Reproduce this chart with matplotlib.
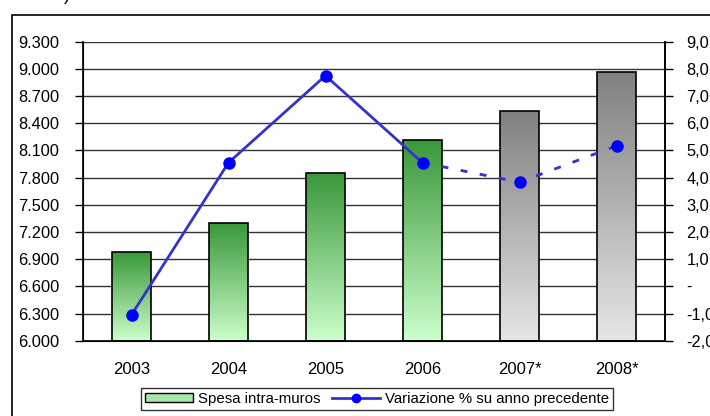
import matplotlib
matplotlib.use("Agg")
import matplotlib.pyplot as plt
import numpy as np
from matplotlib.patches import Rectangle
from matplotlib.lines import Line2D
from matplotlib.ticker import FixedLocator

plt.rcParams['font.family'] = ['Liberation Sans', 'DejaVu Sans']

years = ["2003", "2004", "2005", "2006", "2007*", "2008*"]
spesa = [6980, 7295, 7850, 8210, 8530, 8970]
variazione = [-1.05, 4.55, 7.75, 4.55, 3.83, 5.17]
left_ticks = [6000, 6300, 6600, 6900, 7200, 7500, 7800, 8100, 8400, 8700, 9000, 9300]
left_labels = ["6.000", "6.300", "6.600", "6.900", "7.200", "7.500", "7.800", "8.100", "8.400", "8.700", "9.000", "9.300"]
right_ticks = [-2, -1, 0, 1, 2, 3, 4, 5, 6, 7, 8, 9]
right_labels = ["-2,0", "-1,0", "-", "1,0", "2,0", "3,0", "4,0", "5,0", "6,0", "7,0", "8,0", "9,0"]
n_actual = 4

fig = plt.figure(figsize=(7.1, 4.16), dpi=100)
fig.patch.set_facecolor("white")

# outer frame
fig.patches.append(Rectangle((12/710, -0.05), 1.2, (416-15)/416 + 0.05, transform=fig.transFigure,
                             fill=False, edgecolor="black", linewidth=1.2, zorder=0))
fig.text(28/710, 1 - 4/416, "euro)", fontsize=13, ha="left", va="bottom")

ax = fig.add_axes([83/710, (416-340.7)/416, (665-83)/710, (340.7-41.7)/416])
ax.set_xlim(-0.5, len(years) - 0.5)
ax.set_ylim(6000, 9300)

x = np.arange(len(years))
bars = ax.bar(x, [v - 6000 for v in spesa], bottom=6000, width=0.4,
              facecolor="none", edgecolor="black", linewidth=1.2, zorder=3)

green = np.array([[0x3a/255, 0x98/255, 0x3a/255], [0xcc/255, 0xff/255, 0xcc/255]])
gray = np.array([[0x80/255, 0x80/255, 0x80/255], [0xe6/255, 0xe6/255, 0xe6/255]])
t = np.linspace(0, 1, 256)[:, None]
for i, b in enumerate(bars):
    cols = green if i < n_actual else gray
    grad = cols[0] * (1 - t) + cols[1] * t
    img = grad[:, None, :]
    x0, y0 = b.get_x(), b.get_y()
    w, h = b.get_width(), b.get_height()
    im = ax.imshow(img, extent=[x0, x0 + w, y0, y0 + h], aspect="auto",
                   origin="upper", zorder=2)
    im.set_clip_path(b)

ax.yaxis.set_major_locator(FixedLocator(left_ticks))
ax.set_yticklabels(left_labels)
ax.set_xticks(x)
ax.set_xticklabels(years)
ax.tick_params(axis="x", length=0, pad=15, labelsize=12)
ax.tick_params(axis="y", direction="out", length=6, width=1, pad=11, labelsize=11.8)
ax.grid(axis="y", color="#333333", linewidth=1)
ax.set_axisbelow(True)
for s in ["top"]:
    ax.spines[s].set_visible(False)
for s in ["left", "bottom", "right"]:
    ax.spines[s].set_linewidth(1.2)

ax2 = ax.twinx()
ax2.set_ylim(-2, 9)
ax2.yaxis.set_major_locator(FixedLocator(right_ticks))
ax2.set_yticklabels(right_labels)
ax2.tick_params(axis="y", direction="out", length=6, width=1, pad=9.5, labelsize=11.8)
ax2.spines["top"].set_visible(False)
ax2.spines["right"].set_linewidth(1.2)

line_col = "#3333cc"
ax2.plot(x[:n_actual], variazione[:n_actual], color=line_col, linewidth=2, zorder=4)
ax2.plot(x[n_actual-1:], variazione[n_actual-1:], color=line_col, linewidth=2,
         linestyle=(0, (2.5, 4.5)), zorder=4)
ax2.plot(x, variazione, linestyle="none", marker="o", markersize=8,
         markerfacecolor="#0000ff", markeredgecolor="#0000ff", zorder=5)

handles = [Rectangle((0, 0), 1, 1, facecolor="#a8e6a8", edgecolor="black", linewidth=1),
           Line2D([], [], color=line_col, linewidth=2, marker="o", markersize=6,
                  markerfacecolor="#0000ff", markeredgecolor="#0000ff")]
leg = fig.legend(handles, ["Spesa intra-muros", "Variazione % su anno precedente"],
                 loc="center", bbox_to_anchor=(377/710, 1 - 399/416), ncol=2,
                 frameon=True, fancybox=False, edgecolor="black", fontsize=10.8,
                 handlelength=3.2, handleheight=0.6, handletextpad=0.3,
                 columnspacing=0.8, borderpad=0.25, borderaxespad=0)
leg.get_frame().set_linewidth(1)

fig.savefig("out.png", dpi=100, facecolor="white")
